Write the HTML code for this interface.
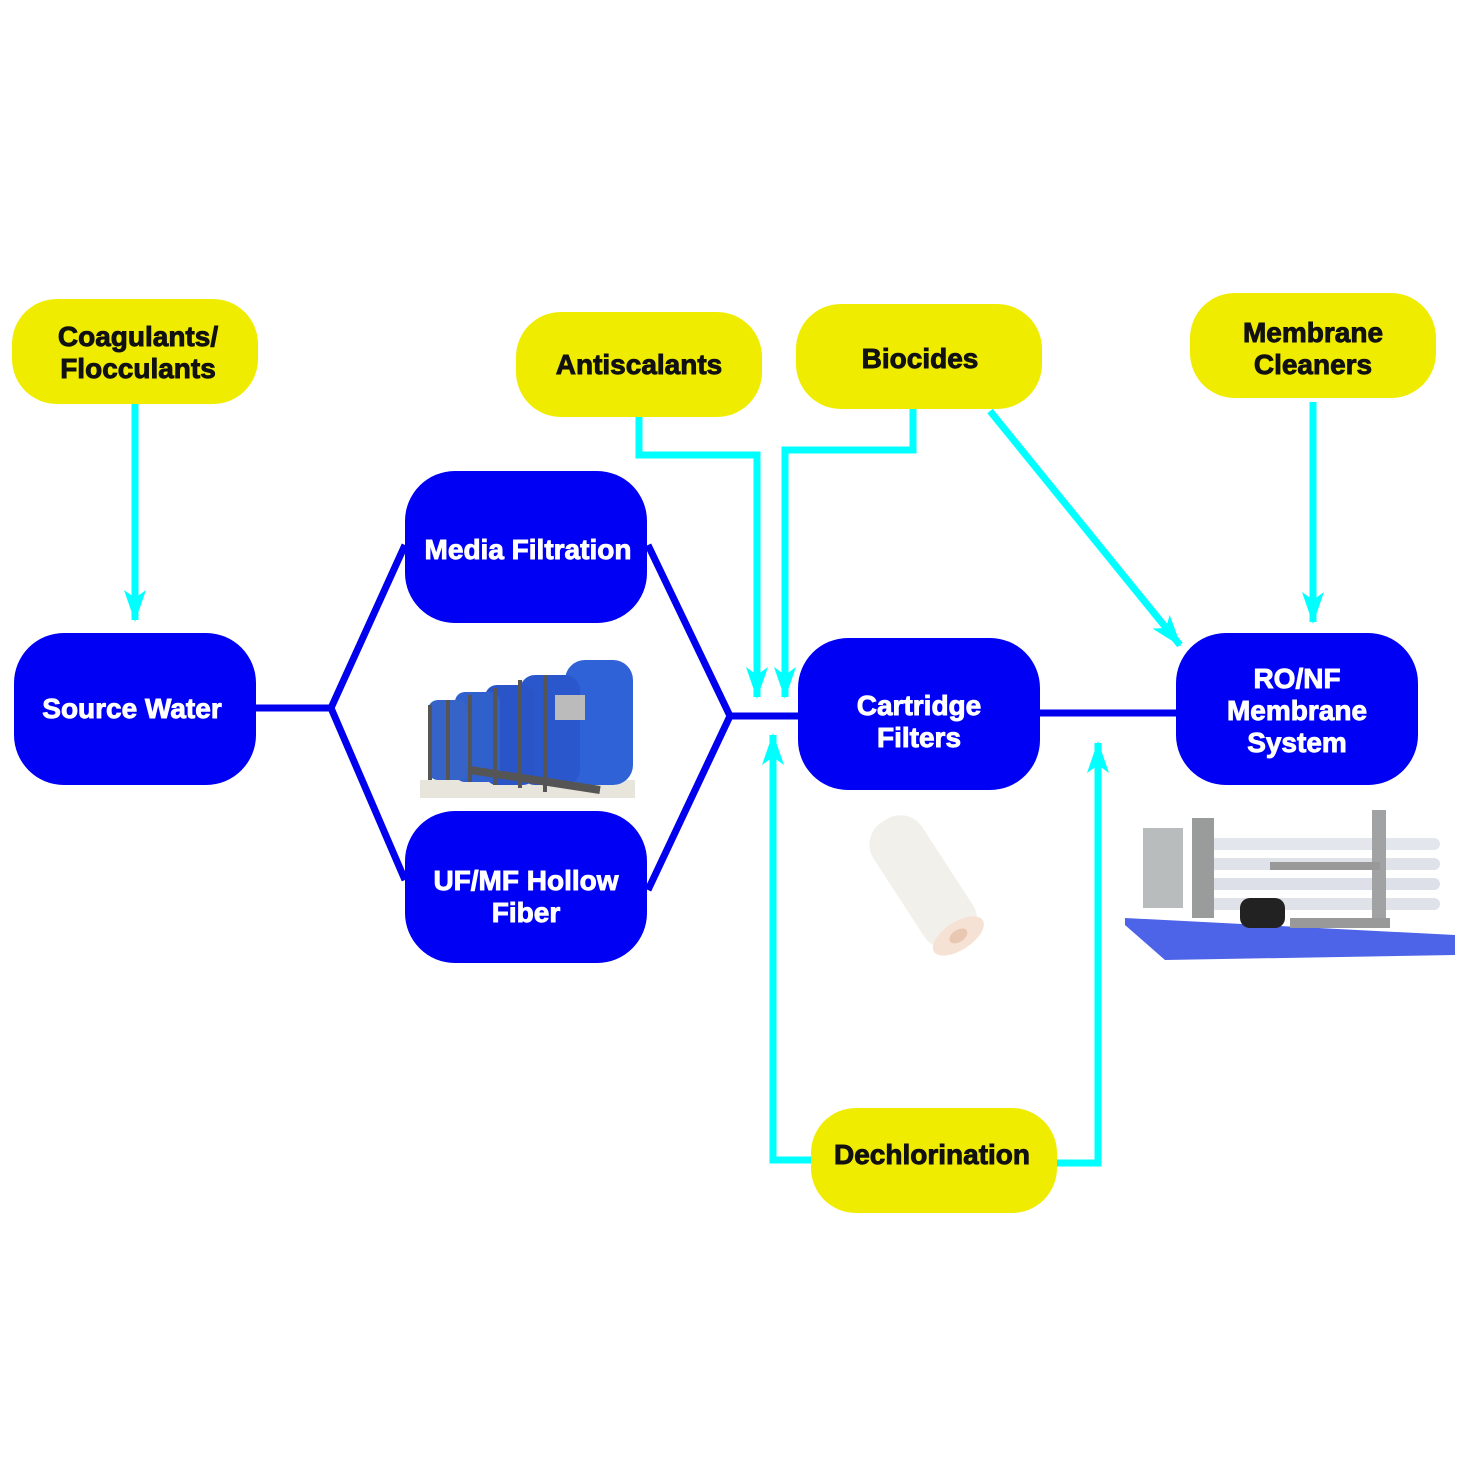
<!DOCTYPE html>
<html><head><meta charset="utf-8"><style>
html,body{margin:0;padding:0;background:#fff;}
svg{display:block;}
text{font-family:"Liberation Sans",sans-serif;font-weight:bold;text-anchor:middle;}
.y text{fill:#111;font-size:28px;stroke:#111;stroke-width:0.9;}
.b text{fill:#fff;font-size:28px;stroke:#fff;stroke-width:0.9;}
</style></head><body>
<svg width="1476" height="1476" viewBox="0 0 1476 1476" xmlns="http://www.w3.org/2000/svg">
<defs>
<marker id="ah" viewBox="0 0 32 22" refX="30" refY="11" markerWidth="32" markerHeight="22" markerUnits="userSpaceOnUse" orient="auto">
<path d="M0,0 L32,11 L0,22 L8,11 Z" fill="#00ffff"/>
</marker>
</defs>
<!-- images approximations -->
<g>
<rect x="420" y="780" width="215" height="18" fill="#e8e6dc"/>
<rect x="565" y="660" width="68" height="125" rx="20" fill="#2f62d6"/>
<rect x="520" y="675" width="60" height="110" rx="15" fill="#2a58cc"/>
<rect x="485" y="685" width="50" height="100" rx="12" fill="#2a55c8"/>
<rect x="455" y="692" width="45" height="90" rx="10" fill="#3060cc"/>
<rect x="428" y="700" width="40" height="80" rx="10" fill="#3563c8"/>
<g stroke="#555" stroke-width="4">
<line x1="430" y1="705" x2="430" y2="780"/><line x1="448" y1="700" x2="448" y2="780"/><line x1="470" y1="695" x2="470" y2="782"/><line x1="495" y1="688" x2="495" y2="785"/><line x1="520" y1="680" x2="520" y2="788"/><line x1="545" y1="675" x2="545" y2="792"/>
<line x1="470" y1="770" x2="600" y2="790" stroke-width="8"/>
</g>
<rect x="555" y="695" width="30" height="25" fill="#bbb"/>
</g>
<g transform="rotate(-33 920 875)">
<rect x="890" y="810" width="58" height="145" rx="26" fill="#f2f0ea"/>
<ellipse cx="919" cy="947" rx="29" ry="14" fill="#f6e2d4"/>
<ellipse cx="919" cy="947" rx="10" ry="6" fill="#e8c8b0"/>
</g>
<g>
<polygon points="1125,918 1455,935 1455,955 1165,960 1125,925" fill="#4d63e8"/>
<rect x="1200" y="838" width="240" height="12" rx="6" fill="#e4e6ee"/>
<rect x="1200" y="858" width="240" height="12" rx="6" fill="#e0e2ea"/>
<rect x="1200" y="878" width="240" height="12" rx="6" fill="#dde0e8"/>
<rect x="1200" y="898" width="240" height="12" rx="6" fill="#e0e2ea"/>
<rect x="1143" y="828" width="40" height="80" fill="#b8bcbc"/>
<rect x="1192" y="818" width="22" height="100" fill="#9a9c9c"/>
<rect x="1372" y="810" width="14" height="110" fill="#a0a2a4"/>
<rect x="1240" y="898" width="45" height="30" rx="10" fill="#222"/>
<rect x="1270" y="862" width="110" height="8" fill="#999"/>
<rect x="1290" y="918" width="100" height="10" fill="#999"/>
</g>
<!-- blue connectors -->
<g stroke="#0000ee" stroke-width="7" fill="none" stroke-linejoin="miter">
<polyline points="256,708 331,708"/>
<polyline points="405,545 331,708 405,880"/>
<polyline points="648,545 730,716 648,890"/>
<line x1="730" y1="716" x2="800" y2="716"/>
<line x1="1040" y1="713" x2="1178" y2="713"/>
</g>
<!-- cyan connectors -->
<g stroke="#00ffff" stroke-width="7" fill="none" stroke-linejoin="miter">
<polyline points="135,404 135,620" marker-end="url(#ah)"/>
<polyline points="639,414 639,455 757,455 757,697" marker-end="url(#ah)"/>
<polyline points="913,409 913,450 785,450 785,697" marker-end="url(#ah)"/>
<polyline points="990,411 1180,645" marker-end="url(#ah)"/>
<polyline points="1313,402 1313,622" marker-end="url(#ah)"/>
<polyline points="812,1160 773,1160 773,735" marker-end="url(#ah)"/>
<polyline points="1056,1163 1098,1163 1098,743" marker-end="url(#ah)"/>
</g>
<!-- yellow boxes -->
<g class="y" fill="#f0ec00">
<rect x="12" y="299" width="246" height="105" rx="45"/>
<rect x="516" y="312" width="246" height="105" rx="45"/>
<rect x="796" y="304" width="246" height="105" rx="45"/>
<rect x="1190" y="293" width="246" height="105" rx="45"/>
<rect x="811" y="1108" width="246" height="105" rx="45"/>
<text x="138" y="346">Coagulants/</text><text x="138" y="378">Flocculants</text>
<text x="639" y="374">Antiscalants</text>
<text x="920" y="368">Biocides</text>
<text x="1313" y="342">Membrane</text><text x="1313" y="374">Cleaners</text>
<text x="932" y="1164">Dechlorination</text>
</g>
<!-- blue boxes -->
<g class="b" fill="#0000f5">
<rect x="14" y="633" width="242" height="152" rx="50"/>
<rect x="405" y="471" width="242" height="152" rx="50"/>
<rect x="405" y="811" width="242" height="152" rx="50"/>
<rect x="798" y="638" width="242" height="152" rx="50"/>
<rect x="1176" y="633" width="242" height="152" rx="50"/>
<text x="132" y="718">Source Water</text>
<text x="528" y="559">Media Filtration</text>
<text x="526" y="890">UF/MF Hollow</text><text x="526" y="922">Fiber</text>
<text x="919" y="715">Cartridge</text><text x="919" y="747">Filters</text>
<text x="1297" y="688">RO/NF</text><text x="1297" y="720">Membrane</text><text x="1297" y="752">System</text>
</g>
</svg>
</body></html>
